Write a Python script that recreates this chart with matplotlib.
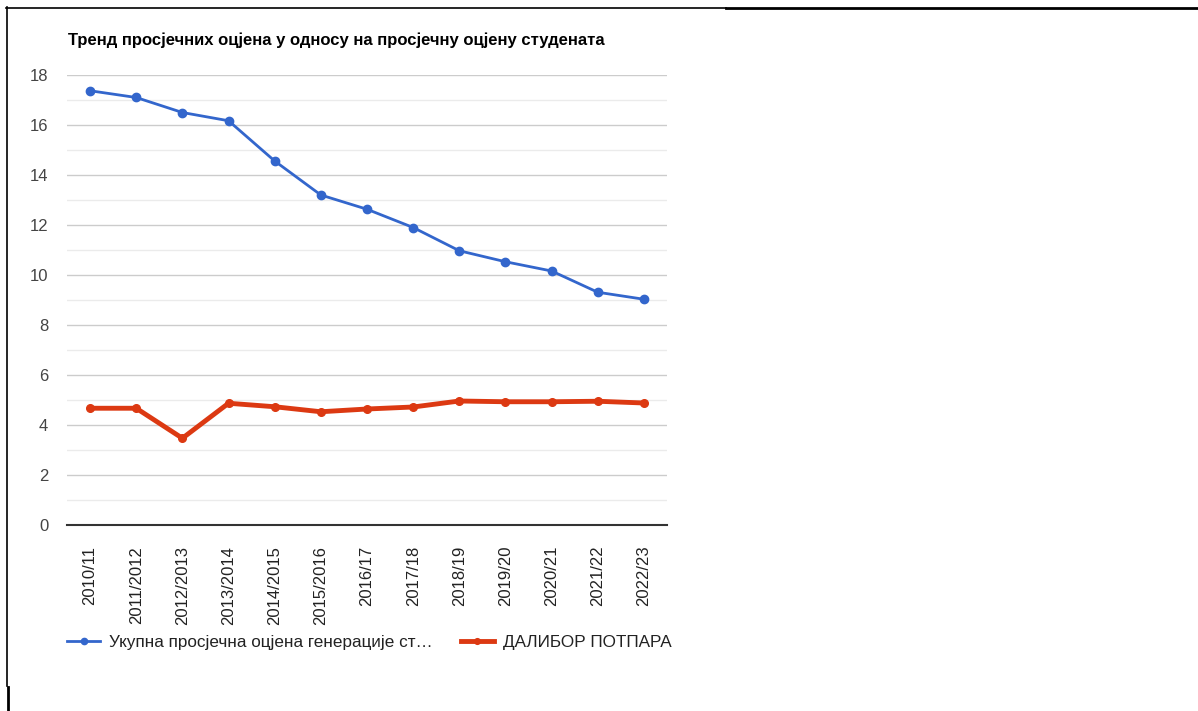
import matplotlib.pyplot as plt
from matplotlib.lines import Line2D

plt.rcParams['font.family'] = ['Liberation Sans', 'DejaVu Sans']

years = ['2010/11', '2011/2012', '2012/2013', '2013/2014', '2014/2015', '2015/2016',
         '2016/17', '2017/18', '2018/19', '2019/20', '2020/21', '2021/22', '2022/23']
total_avg = [17.37, 17.1, 16.5, 16.17, 14.56, 13.2, 12.63, 11.9, 10.97, 10.53, 10.16, 9.31, 9.03]
student_avg = [4.67, 4.67, 3.47, 4.87, 4.73, 4.53, 4.64, 4.72, 4.96, 4.93, 4.93, 4.95, 4.88]

label_total = 'Укупна просјечна оцјена генерације ст…'
label_student = 'ДАЛИБОР ПОТПАРА'
title = 'Тренд просјечних оцјена у односу на просјечну оцјену студената'

W, H = 1198, 711
fig = plt.figure(figsize=(W / 100, H / 100), dpi=100)
ax = fig.add_axes([67 / W, 1 - 525 / H, 600 / W, 450 / H])

x = range(len(years))
ax.plot(x, total_avg, color='#3366cc', lw=2, marker='o', ms=6, label=label_total, zorder=3)
ax.plot(x, student_avg, color='#dc3912', lw=3.5, marker='o', ms=5.5, label=label_student, zorder=3)

ax.set_xlim(-0.5, len(years) - 0.5)
ax.set_ylim(0, 18)
ax.set_yticks(range(0, 19, 2))
ax.set_yticks(range(1, 18, 2), minor=True)
ax.grid(axis='y', which='major', color='#cccccc', lw=1)
ax.grid(axis='y', which='minor', color='#ebebeb', lw=1)
ax.set_axisbelow(True)
for s in ['top', 'right', 'left']:
    ax.spines[s].set_visible(False)
ax.spines['bottom'].set_color('#333333')
ax.spines['bottom'].set_linewidth(1.5)

ax.set_xticks(list(x))
ax.set_xticklabels(years, rotation=90, va='top', ha='center')
ax.tick_params(axis='x', length=0, pad=15, labelsize=12, labelcolor='#222222')
ax.tick_params(axis='y', which='both', length=0, pad=13.5, labelsize=12, labelcolor='#444444')

fig.text(68 / W, 1 - 40 / H, title, fontsize=12, fontweight='bold', va='center', ha='left', color='#000000')

leg = fig.legend(loc='center left', bbox_to_anchor=(67 / W, 1 - 642 / H), ncol=2, frameon=False,
                 fontsize=12.3, handlelength=1.95, handletextpad=0.5, columnspacing=1.65,
                 markerscale=0.75, borderaxespad=0, borderpad=0)
for t in leg.get_texts():
    t.set_color('#222222')

# screenshot frame lines
def fx(px):
    return px / W

def fy(py):
    return 1 - py / H

fig.add_artist(Line2D([fx(6), fx(726)], [fy(7.5), fy(7.5)], color='black', lw=1.2))
fig.add_artist(Line2D([fx(726), fx(1198)], [fy(8), fy(8)], color='black', lw=2))
fig.add_artist(Line2D([fx(7), fx(7)], [fy(7), fy(686)], color='black', lw=1.2))
fig.add_artist(Line2D([fx(7.5), fx(7.5)], [fy(687), fy(711)], color='black', lw=2))

fig.savefig('out.png', dpi=100)
